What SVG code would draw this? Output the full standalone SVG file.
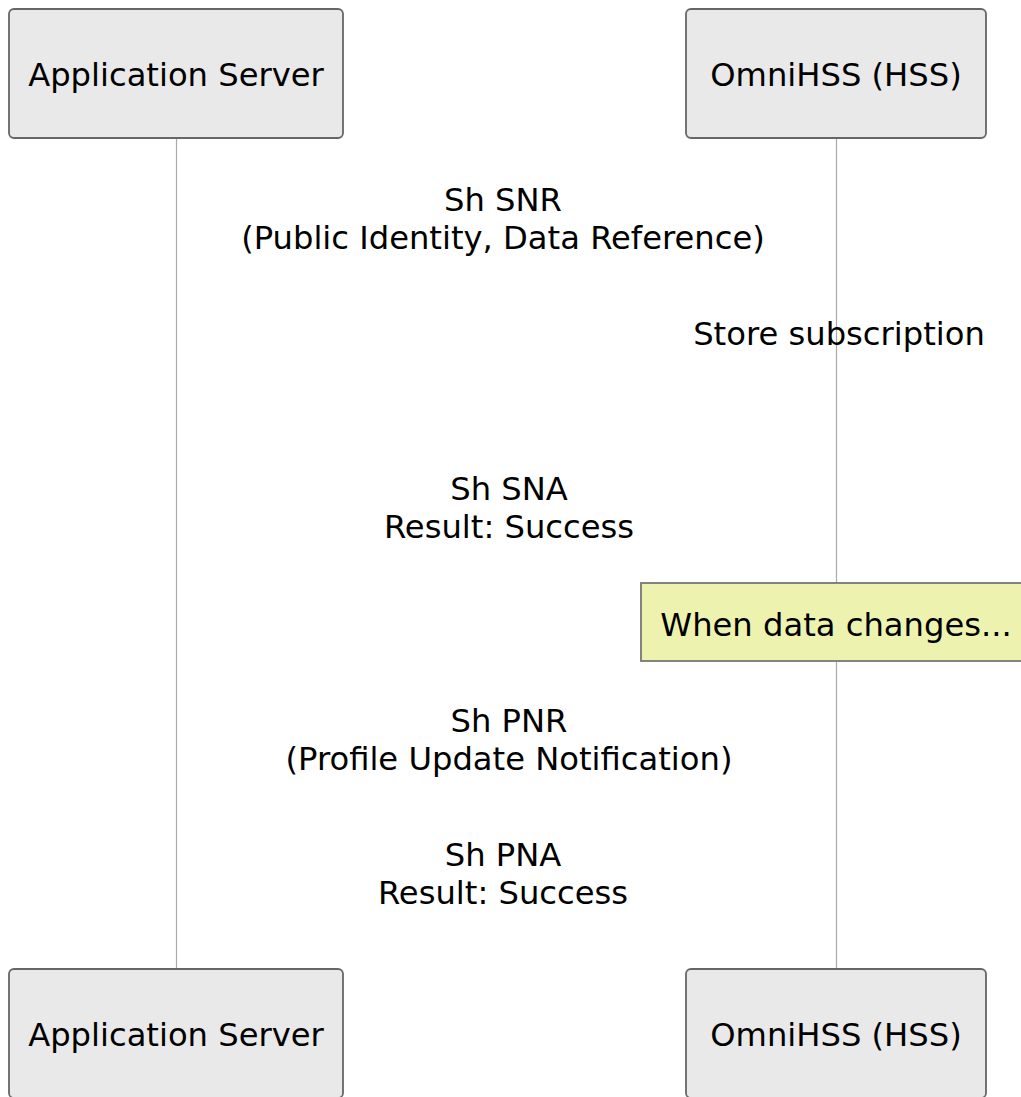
<svg xmlns="http://www.w3.org/2000/svg" width="1021" height="1097" viewBox="0 0 1021 1097">
<style>
text{font-family:"DejaVu Sans","Noto Sans",sans-serif;font-size:32.2px;fill:#000;text-anchor:middle}
.box{fill:#E9E9E9;stroke:#666;stroke-width:1.8}
.life{stroke:#AAA;stroke-width:1.2;fill:none}
.note{fill:#EDF3AF;stroke:#777;stroke-width:1.8}
</style>
<rect width="1021" height="1097" fill="#fff"/>
<g id="lifelines">
<line class="life" x1="176.5" y1="138" x2="176.5" y2="969"/>
<line class="life" x1="836.5" y1="138" x2="836.5" y2="969"/>
</g>
<g id="as-top"><rect class="box" x="9" y="9" width="334" height="129" rx="5"/><text x="176" y="86">Application Server</text></g>
<g id="hss-top"><rect class="box" x="686" y="9" width="300" height="129" rx="5"/><text x="836" y="86">OmniHSS (HSS)</text></g>
<g id="connectors">
<g id="snr"><text x="503" y="211">Sh SNR</text><text x="503" y="249">(Public Identity, Data Reference)</text></g>
<g id="store"><text x="839" y="345">Store subscription</text></g>
<g id="sna"><text x="509" y="500">Sh SNA</text><text x="509" y="538">Result: Success</text></g>
<g id="pnr"><text x="509" y="732">Sh PNR</text><text x="509" y="770">(Profile Update Notification)</text></g>
<g id="pna"><text x="503" y="866">Sh PNA</text><text x="503" y="904">Result: Success</text></g>
</g>
<g id="note"><rect class="note" x="641" y="583" width="390" height="78"/><text x="836" y="636">When data changes...</text></g>
<g id="as-bottom"><rect class="box" x="9" y="969" width="334" height="129" rx="5"/><text x="176" y="1046">Application Server</text></g>
<g id="hss-bottom"><rect class="box" x="686" y="969" width="300" height="129" rx="5"/><text x="836" y="1046">OmniHSS (HSS)</text></g>
</svg>
